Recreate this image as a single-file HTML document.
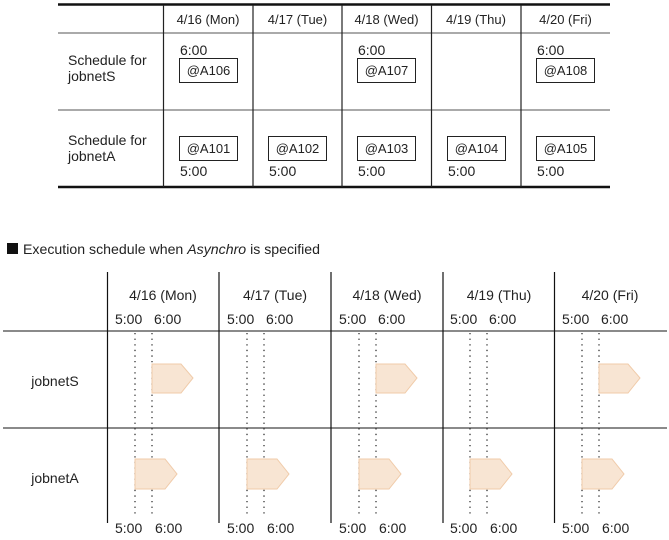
<!DOCTYPE html>
<html><head><meta charset="utf-8"><style>body{margin:0;background:#fff}svg{display:block}text{font-family:"Liberation Sans",Arial,sans-serif;font-size:14px;fill:#222}.s{font-size:13px}</style></head><body>
<svg width="669" height="540" viewBox="0 0 669 540" xmlns="http://www.w3.org/2000/svg">
<line x1="58" y1="4.5" x2="610" y2="4.5" stroke="#111" stroke-width="2.5"/>
<line x1="58" y1="33" x2="610" y2="33" stroke="#555" stroke-width="1"/>
<line x1="58" y1="110" x2="610" y2="110" stroke="#555" stroke-width="1"/>
<line x1="58" y1="187" x2="610" y2="187" stroke="#111" stroke-width="2.5"/>
<g stroke="#222" stroke-width="1.2">
<line x1="163.5" y1="5" x2="163.5" y2="187"/><line x1="253" y1="5" x2="253" y2="187"/><line x1="342" y1="5" x2="342" y2="187"/><line x1="431.5" y1="5" x2="431.5" y2="187"/><line x1="521" y1="5" x2="521" y2="187"/>
</g>
<g text-anchor="middle" class="s">
<text class="s" x="208" y="24">4/16 (Mon)</text><text class="s" x="297.5" y="24">4/17 (Tue)</text><text class="s" x="386.5" y="24">4/18 (Wed)</text><text class="s" x="476" y="24">4/19 (Thu)</text><text class="s" x="565.5" y="24">4/20 (Fri)</text>
</g>
<text x="68" y="65">Schedule for</text><text x="68" y="81">jobnetS</text>
<text x="68" y="145">Schedule for</text><text x="68" y="161">jobnetA</text>
<g fill="none" stroke="#222" stroke-width="1">
<rect x="179.5" y="58.5" width="58" height="24"/><rect x="357.5" y="58.5" width="58" height="24"/><rect x="536.5" y="58.5" width="58" height="24"/>
<rect x="179.5" y="136.5" width="58" height="24"/><rect x="268.5" y="136.5" width="58" height="24"/><rect x="357.5" y="136.5" width="58" height="24"/><rect x="447.5" y="136.5" width="58" height="24"/><rect x="536.5" y="136.5" width="58" height="24"/>
</g>
<text x="180" y="55">6:00</text><text x="358" y="55">6:00</text><text x="537" y="55">6:00</text>
<g text-anchor="middle">
<text class="s" x="208.5" y="75">@A106</text><text class="s" x="386.5" y="75">@A107</text><text class="s" x="565.5" y="75">@A108</text>
<text class="s" x="208.5" y="153">@A101</text><text class="s" x="297.5" y="153">@A102</text><text class="s" x="386.5" y="153">@A103</text><text class="s" x="476.5" y="153">@A104</text><text class="s" x="565.5" y="153">@A105</text>
</g>
<text x="180" y="176">5:00</text><text x="269" y="176">5:00</text><text x="358" y="176">5:00</text><text x="448" y="176">5:00</text><text x="537" y="176">5:00</text>
<rect x="7" y="243" width="11" height="11" fill="#111"/>
<text x="23" y="254" textLength="297" lengthAdjust="spacingAndGlyphs">Execution schedule when <tspan font-style="italic">Asynchro</tspan> is specified</text>
<line x1="3" y1="331" x2="667" y2="331" stroke="#444" stroke-width="1.2"/>
<line x1="3" y1="428" x2="667" y2="428" stroke="#444" stroke-width="1.2"/>
<g stroke="#111" stroke-width="1.2">
<line x1="107.5" y1="272" x2="107.5" y2="523"/><line x1="219" y1="272" x2="219" y2="523"/><line x1="331" y1="272" x2="331" y2="523"/><line x1="443" y1="272" x2="443" y2="523"/><line x1="554.5" y1="272" x2="554.5" y2="523"/>
</g>
<g stroke="#222" stroke-width="1.2" stroke-dasharray="1.3,4.3">
<line x1="135" y1="333" x2="135" y2="515"/><line x1="152" y1="333" x2="152" y2="515"/>
<line x1="247" y1="333" x2="247" y2="515"/><line x1="264" y1="333" x2="264" y2="515"/>
<line x1="359" y1="333" x2="359" y2="515"/><line x1="376" y1="333" x2="376" y2="515"/>
<line x1="470" y1="333" x2="470" y2="515"/><line x1="487" y1="333" x2="487" y2="515"/>
<line x1="582" y1="333" x2="582" y2="515"/><line x1="599" y1="333" x2="599" y2="515"/>
</g>
<g fill="#f8e5d3" stroke="#f0cba9" stroke-width="1">
<polygon points="152,364 181,364 193,378 181,393 152,393"/>
<polygon points="376,364 405,364 417,378 405,393 376,393"/>
<polygon points="599,364 628,364 640,378 628,393 599,393"/>
<polygon points="135,459 165,459 177,474 165,489 135,489"/>
<polygon points="247,459 277,459 289,474 277,489 247,489"/>
<polygon points="359,459 389,459 401,474 389,489 359,489"/>
<polygon points="470,459 500,459 512,474 500,489 470,489"/>
<polygon points="582,459 612,459 624,474 612,489 582,489"/>
</g>
<g text-anchor="middle">
<text x="163" y="300">4/16 (Mon)</text><text x="275" y="300">4/17 (Tue)</text><text x="387" y="300">4/18 (Wed)</text><text x="499" y="300">4/19 (Thu)</text><text x="610" y="300">4/20 (Fri)</text>
<text x="55" y="386">jobnetS</text><text x="55" y="483">jobnetA</text>
</g>
<g>
<text x="115" y="324">5:00</text><text x="154" y="324">6:00</text>
<text x="227" y="324">5:00</text><text x="266" y="324">6:00</text>
<text x="339" y="324">5:00</text><text x="378" y="324">6:00</text>
<text x="450" y="324">5:00</text><text x="489" y="324">6:00</text>
<text x="562" y="324">5:00</text><text x="601" y="324">6:00</text>
<text x="115" y="533">5:00</text><text x="155" y="533">6:00</text>
<text x="227" y="533">5:00</text><text x="267" y="533">6:00</text>
<text x="339" y="533">5:00</text><text x="379" y="533">6:00</text>
<text x="450" y="533">5:00</text><text x="490" y="533">6:00</text>
<text x="562" y="533">5:00</text><text x="602" y="533">6:00</text>
</g>
</svg>
</body></html>
